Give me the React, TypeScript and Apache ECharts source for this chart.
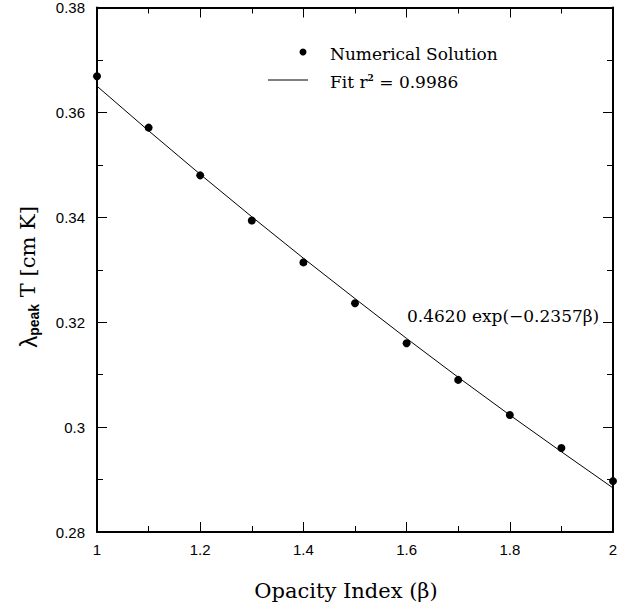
import React, { useEffect, useRef } from "react";
import * as echarts from "echarts";

const betaValues = [1.0, 1.1, 1.2, 1.3, 1.4, 1.5, 1.6, 1.7, 1.8, 1.9, 2.0];
const numericalSolution = [0.3669, 0.3571, 0.348, 0.3394, 0.3314, 0.3236, 0.316, 0.309, 0.3023, 0.296, 0.2897];
const fitValues = [0.365, 0.3565, 0.3482, 0.3401, 0.3322, 0.3245, 0.3169, 0.3095, 0.3023, 0.2953, 0.2884];
const legendLabels = ["Numerical Solution", "Fit r", " = 0.9986"];
const fitLabel = "0.4620 exp(\u22120.2357\u03B2)";
const xTitle = "Opacity Index (\u03B2)";

const SERIF = "'DejaVu Serif', serif";
const SANS = "'Liberation Sans', Arial, sans-serif";

export default function App() {
  const ref = useRef<HTMLDivElement>(null);
  useEffect(() => {
    if (!ref.current) return;
    const chart = echarts.init(ref.current, null, { renderer: "svg" });
    const axisCommon = {
      type: "value" as const,
      splitLine: { show: false },
      axisLine: { show: true, lineStyle: { color: "#000", width: 2 } },
      axisTick: { show: true, inside: true, length: 10, lineStyle: { color: "#000", width: 1 } },
      minorTick: { show: true, splitNumber: 2, length: 6, lineStyle: { color: "#000", width: 1 } },
    };
    chart.setOption({
      animation: false,
      backgroundColor: "#fff",
      grid: { left: 97, right: 8, top: 7, bottom: 75, containLabel: false },
      xAxis: [
        {
          ...axisCommon,
          min: 1,
          max: 2,
          interval: 0.2,
          position: "bottom",
          axisLabel: { color: "#000", fontFamily: SANS, fontSize: 15, margin: 10 },
        },
        {
          ...axisCommon,
          min: 1,
          max: 2,
          interval: 0.2,
          position: "top",
          axisLabel: { show: false },
        },
      ],
      yAxis: [
        {
          ...axisCommon,
          min: 0.28,
          max: 0.38,
          interval: 0.02,
          position: "left",
          axisLabel: { color: "#000", fontFamily: SANS, fontSize: 15, margin: 12 },
        },
        {
          ...axisCommon,
          min: 0.28,
          max: 0.38,
          interval: 0.02,
          position: "right",
          axisLabel: { show: false },
        },
      ],
      series: [
        {
          type: "line",
          data: betaValues.map((b, i) => [b, fitValues[i]]),
          showSymbol: false,
          symbol: "none",
          lineStyle: { color: "#000", width: 1 },
          clip: false,
          z: 2,
        },
        {
          type: "scatter",
          data: betaValues.map((b, i) => [b, numericalSolution[i]]),
          symbolSize: 8,
          itemStyle: { color: "#000", opacity: 1 },
          clip: false,
          z: 3,
        },
      ],
      graphic: [
        { type: "circle", shape: { cx: 303, cy: 52, r: 3.5 }, style: { fill: "#000" } },
        {
          type: "text",
          x: 330,
          y: 54,
          style: { text: legendLabels[0], font: `17px ${SERIF}`, fill: "#000", verticalAlign: "middle" },
        },
        { type: "line", shape: { x1: 268, y1: 80, x2: 308, y2: 80 }, style: { stroke: "#000", lineWidth: 1 } },
        {
          type: "text",
          x: 330,
          y: 82,
          style: {
            text: `{a|${legendLabels[1]}}{s|2}{a|${legendLabels[2]}}`,
            verticalAlign: "middle",
            rich: {
              a: { font: `17px ${SERIF}`, fill: "#000" },
              s: { font: `bold 9px ${SERIF}`, fill: "#000", verticalAlign: "top", padding: [0, 0, 8, 0] },
            },
          },
        },
        {
          type: "text",
          x: 407,
          y: 316,
          style: { text: fitLabel, font: `17px ${SERIF}`, fill: "#000", verticalAlign: "middle" },
        },
        {
          type: "text",
          x: 346,
          y: 591,
          style: { text: xTitle, font: `21px ${SERIF}`, fill: "#000", align: "center", verticalAlign: "middle" },
        },
        {
          type: "text",
          x: 28,
          y: 277,
          rotation: Math.PI / 2,
          style: {
            text: "{l|\u03BB}{p|peak}{t| T [cm K]}",
            align: "center",
            verticalAlign: "middle",
            rich: {
              l: { font: `24px ${SANS}`, fill: "#000" },
              p: { font: `bold 14px ${SANS}`, fill: "#000", padding: [11, 0, 0, 0] },
              t: { font: `21px ${SERIF}`, fill: "#000" },
            },
          },
        },
      ],
    });
    return () => chart.dispose();
  }, []);
  return <div ref={ref} style={{ width: 621, height: 607, position: "absolute", left: 0, top: 0 }} />;
}
